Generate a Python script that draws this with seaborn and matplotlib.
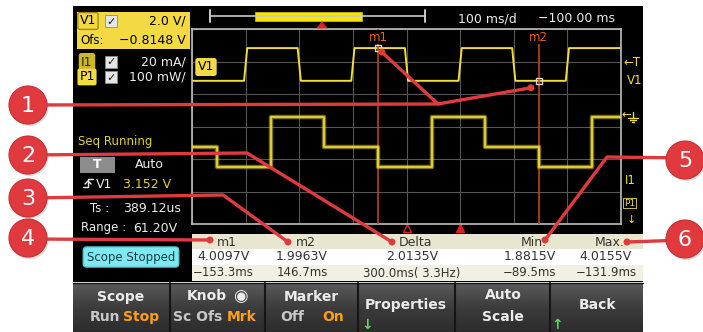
import numpy as np
import matplotlib.pyplot as plt
from matplotlib.patches import Rectangle, Circle, Polygon
from matplotlib.colors import LinearSegmentedColormap
import seaborn as sns

W, H = 703, 332

# scope settings
t_left, t_right = -500, 300          # ms, 100 ms/div, centre -100 ms
v1_offset = -0.8148                  # V, 2.0 V/div
v1_per_div = 2.0

# V1 voltage trace (ms, V)
v1_time = [-500, -403, -397, -303, -297, -203, -197, -103, -97, -3, 3, 97, 103, 197, 203, 300]
v1_volt = [1.9963, 1.9963, 4.0097, 4.0097, 1.9963, 1.9963, 4.0097, 4.0097,
           1.9963, 1.9963, 4.0097, 4.0097, 1.9963, 1.9963, 4.0097, 4.0097]

# I1 current trace (ms, mA), 20 mA/div
i1_time = [-500, -453.3, -353.3, -253.3, -153.3, -53.3, 46.7, 146.7, 246.7, 300]
i1_ma = [20, 8, 39, 20, 8, 39, 20, 8, 39, 39]
i1_lim = (-27.1, 92.9)

# markers
marker_names = ['m1', 'm2']
marker_time = [-153.3, 146.7]
marker_volt = [4.0097, 1.9963]

# measurement table
table_head = ['m1', 'm2', 'Delta', 'Min.', 'Max.']
table_volt = ['4.0097V', '1.9963V', '2.0135V', '1.8815V', '4.0155V']
table_time = ['−153.3ms', '146.7ms', '300.0ms( 3.3Hz)', '−89.5ms', '−131.9ms']
table_x = [223, 302, 412, 530, 606]

YEL = '#f0dc3c'
RED = '#e03a3e'
ORANGE = '#ff9f1a'
WHITE = '#ececec'

sns.set_theme(style='dark')
plt.rcParams['font.family'] = ['DejaVu Sans']

fig = plt.figure(figsize=(W / 100, H / 100), dpi=100)
fig.patch.set_facecolor('white')


def px_axes(z):
    a = fig.add_axes([0, 0, 1, 1], zorder=z)
    a.set_xlim(0, W)
    a.set_ylim(H, 0)
    a.axis('off')
    return a


bg = px_axes(0)
bg.add_patch(Rectangle((73, 6), 570, 276, fc='black', ec='none'))
keys_cmap = LinearSegmentedColormap.from_list('keys', ['#5a5a5a', '#3c3c3c', '#2c2c2c'])
bg.imshow(np.linspace(0, 1, 60).reshape(-1, 1), cmap=keys_cmap, aspect='auto',
          extent=(73, 643, 332, 283), origin='upper')
bg.set_xlim(0, W)
bg.set_ylim(H, 0)

# ---- scope grid ----
ax = fig.add_axes([192 / W, 1 - 224 / H, 429 / W, 195 / H], zorder=2)
ax.set_facecolor('black')
sns.lineplot(x=v1_time, y=v1_volt, ax=ax, color=YEL, lw=1.4,
             estimator=None, sort=False)
ax.set_xlim(t_left, t_right)
ax.set_ylim(v1_offset - 3 * v1_per_div, v1_offset + 3 * v1_per_div)
ax.set_xticks(range(t_left, t_right + 1, 100))
ax.set_yticks([v1_offset + k * v1_per_div for k in range(-3, 4)])
ax.tick_params(length=0, labelbottom=False, labelleft=False)
ax.grid(True, color='#555555', lw=0.8)
ax.set_xlabel('')
ax.set_ylabel('')
for s in ax.spines.values():
    s.set_visible(True)
    s.set_color('#bdbdbd')
    s.set_linewidth(1.2)

ax2 = ax.twinx()
sns.lineplot(x=i1_time, y=i1_ma, ax=ax2, color=YEL, lw=3.2, alpha=0.5,
             drawstyle='steps-post', estimator=None, sort=False)
sns.lineplot(x=i1_time, y=i1_ma, ax=ax2, color=YEL, lw=1.2,
             drawstyle='steps-post', estimator=None, sort=False)
ax2.set_ylim(*i1_lim)
ax2.axis('off')

xt = ax.get_xaxis_transform()
for name, t, v in zip(marker_names, marker_time, marker_volt):
    ax.axvline(t, color='#c9481c', lw=1.1, zorder=3)
    ax.text(t, 0.958, name, transform=xt, ha='center', va='center',
            color='#e8601e', fontsize=8.5, zorder=4,
            bbox=dict(fc='black', ec='none', pad=0.5))
    ax.plot([t], [v], marker='s', ms=5, mfc='none', mec='#d8d8d8', mew=1, zorder=5)
# time reference (hollow) and trigger (filled) triangles
ax.plot([-100], [-0.022], transform=xt, marker='^', ms=6, mfc='black',
        mec='#e02020', clip_on=False)
ax.plot([0], [-0.022], transform=xt, marker='^', ms=6, mfc='#e02020',
        mec='#e02020', clip_on=False)

lab = px_axes(3)

# overview bar
lab.plot([210, 425], [16, 16], color='#c8c8c8', lw=1.2)
lab.plot([210, 210], [10, 22], color='#c8c8c8', lw=1.4)
lab.plot([425, 425], [10, 22], color='#c8c8c8', lw=1.4)
lab.add_patch(Rectangle((255, 12), 107, 9, fc='#f5e600', ec='#c8b800', lw=0.6))
lab.add_patch(Polygon([[317, 28], [327, 28], [322, 22]], closed=True,
                      fc='#e82020', ec='#e82020', lw=0.5, zorder=4))
lab.text(458, 19, '100 ms/d', color=WHITE, fontsize=9, va='center')
lab.text(538, 19, '−100.00 ms', color=WHITE, fontsize=9, va='center')

# channel panel
lab.add_patch(Rectangle((77, 12), 113, 37, fc='#f3da45', ec='none'))


def checkbox(y):
    lab.add_patch(Rectangle((105, y - 6), 12, 12, fc='#e6e6e6', ec='#8c8c8c', lw=0.6))
    lab.text(111, y + 0.5, '✓', color='#202020', fontsize=8, ha='center', va='center')


lab.text(88, 21, 'V1', color='black', fontsize=9, ha='center', va='center',
         bbox=dict(boxstyle='round,pad=0.15', fc='#f3da45', ec='#a88a10', lw=1))
checkbox(21)
lab.text(186, 21, '2.0 V/', color='black', fontsize=9, ha='right', va='center')
lab.text(80, 40, 'Ofs:', color='black', fontsize=8.5, va='center')
lab.text(186, 40, '−0.8148 V', color='black', fontsize=9, ha='right', va='center')
lab.text(87, 62, 'I1', color='#2a2a00', fontsize=9, ha='center', va='center',
         bbox=dict(boxstyle='round,pad=0.2', fc='#cdb52c', ec='none'))
checkbox(62)
lab.text(186, 62, '20 mA/', color=WHITE, fontsize=9, ha='right', va='center')
lab.text(87, 77, 'P1', color='black', fontsize=9, ha='center', va='center',
         bbox=dict(boxstyle='round,pad=0.15', fc='#f3da45', ec='none'))
checkbox(77)
lab.text(186, 77, '100 mW/', color=WHITE, fontsize=9, ha='right', va='center')

lab.text(78, 141, 'Seq Running', color='#e2cf3a', fontsize=8.5, va='center')
lab.add_patch(Rectangle((80, 157), 35, 16, fc='#8c8c8c', ec='none'))
lab.text(97, 165, 'T', color='white', fontsize=9, fontweight='bold', ha='center', va='center')
lab.text(149, 165, 'Auto', color=WHITE, fontsize=9, ha='center', va='center')
lab.plot([83, 88, 88, 93], [187, 187, 179, 179], color=WHITE, lw=1)
lab.plot([85, 88, 91], [184, 181, 184], color=WHITE, lw=1)
lab.text(96, 184, 'V1', color=WHITE, fontsize=9, va='center')
lab.text(123, 184, '3.152 V', color='#e2cf3a', fontsize=9, va='center')
lab.text(90, 209, 'Ts :', color=WHITE, fontsize=8.5, va='center')
lab.text(123, 209, '389.12us', color=WHITE, fontsize=9, va='center')
lab.text(81, 228, 'Range :', color=WHITE, fontsize=8.5, va='center')
lab.text(133, 228, '61.20V', color=WHITE, fontsize=9, va='center')
lab.text(131, 257, 'Scope Stopped', color='#1c3c44', fontsize=8.5, ha='center', va='center',
         bbox=dict(boxstyle='round,pad=0.3', fc='#7fe9f2', ec='#5cc8d0'))

# labels on the grid
lab.text(206, 67, 'V1', color='black', fontsize=9, ha='center', va='center',
         bbox=dict(boxstyle='round,pad=0.2', fc='#f3da45', ec='none'))
lab.text(623, 63, '←T', color=YEL, fontsize=8.5, va='center')
lab.text(627, 80, 'V1', color=YEL, fontsize=8.5, va='center')
lab.text(621, 114, '←', color=YEL, fontsize=8.5, va='center')
lab.plot([633, 633], [112, 118], color=YEL, lw=1)
lab.plot([628, 638], [118, 118], color=YEL, lw=1)
lab.plot([630, 636], [120, 120], color=YEL, lw=1)
lab.plot([632, 634], [122, 122], color=YEL, lw=1)
lab.text(625, 180, 'I1', color=YEL, fontsize=8.5, va='center')
lab.text(624, 203, 'P1', color=YEL, fontsize=6.5, va='center',
         bbox=dict(boxstyle='square,pad=0.1', fc='none', ec=YEL, lw=0.6))
lab.text(627, 220, '↓', color=YEL, fontsize=8, va='center')

# measurement table
lab.add_patch(Rectangle((192, 234), 451, 15, fc='#e9e6cf', ec='none'))
lab.add_patch(Rectangle((192, 249), 451, 16, fc='white', ec='none'))
lab.add_patch(Rectangle((192, 265), 451, 16, fc='#f2f0e2', ec='none'))
for x, hd, vv, tt in zip(table_x, table_head, table_volt, table_time):
    lab.text(x + 4, 242, hd, color='#333333', fontsize=9, ha='center', va='center')
    lab.text(x, 257, vv, color='#333333', fontsize=9, ha='center', va='center')
    lab.text(x, 273, tt, color='#333333', fontsize=8.5, ha='center', va='center')

# softkeys
for x in [170, 265, 358, 455, 550]:
    lab.plot([x, x], [283, 332], color='#151515', lw=1.5)
lab.plot([73, 643], [283, 283], color='#151515', lw=1)
lab.text(121, 297, 'Scope', color=WHITE, fontsize=10, fontweight='bold', ha='center', va='center')
lab.text(90, 317, 'Run', color='#c8c8c8', fontsize=10, fontweight='bold', va='center')
lab.text(123, 317, 'Stop', color=ORANGE, fontsize=10, fontweight='bold', va='center')
lab.text(207, 296, 'Knob', color=WHITE, fontsize=10, fontweight='bold', ha='center', va='center')
lab.text(240, 296, '◉', color=WHITE, fontsize=12, ha='center', va='center')
lab.text(173, 317, 'Sc Ofs', color='#c8c8c8', fontsize=10, fontweight='bold', va='center')
lab.text(227, 317, 'Mrk', color=ORANGE, fontsize=10, fontweight='bold', va='center')
lab.text(311, 297, 'Marker', color=WHITE, fontsize=10, fontweight='bold', ha='center', va='center')
lab.text(280, 317, 'Off', color='#c8c8c8', fontsize=10, fontweight='bold', va='center')
lab.text(322, 317, 'On', color=ORANGE, fontsize=10, fontweight='bold', va='center')
lab.text(406, 305, 'Properties', color=WHITE, fontsize=10, fontweight='bold', ha='center', va='center')
lab.text(367, 325, '↓', color='#50e050', fontsize=10, fontweight='bold', ha='center', va='center')
lab.text(503, 295, 'Auto', color=WHITE, fontsize=10, fontweight='bold', ha='center', va='center')
lab.text(503, 317, 'Scale', color=WHITE, fontsize=10, fontweight='bold', ha='center', va='center')
lab.text(597, 305, 'Back', color=WHITE, fontsize=10, fontweight='bold', ha='center', va='center')
lab.text(557, 325, '↑', color='#50e050', fontsize=10, fontweight='bold', ha='center', va='center')

# ---- numbered callouts ----
ov = px_axes(5)


def data_px(a, x, y):
    return ov.transData.inverted().transform(a.transData.transform((x, y)))


m1x, m1y = data_px(ax, marker_time[0], marker_volt[0])
m2x, m2y = data_px(ax, marker_time[1], marker_volt[1])
callouts = [
    ('1', (28, 105), [[(28, 105), (438, 104), (m1x + 4, m1y + 4)], [(438, 104), (m2x - 8, m2y + 7)]]),
    ('2', (28, 155), [[(28, 155), (247, 153), (392, 242)]]),
    ('3', (28, 198), [[(28, 198), (223, 195), (288, 242)]]),
    ('4', (28, 238), [[(28, 239), (210, 240)]]),
    ('5', (685, 160), [[(685, 158), (607, 157), (545, 240)]]),
    ('6', (685, 239), [[(685, 240), (627, 242)]]),
]
for num, (cx, cy), paths in callouts:
    for p in paths:
        xs = [q[0] for q in p]
        ys = [q[1] for q in p]
        ov.plot(xs, ys, color=RED, lw=2.4, solid_capstyle='round', zorder=1)
        ov.add_patch(Circle(p[-1], 3.5, fc=RED, ec='none', zorder=1))
    ov.add_patch(Circle((cx + 1.5, cy + 2), 19, fc='#999999', ec='none', alpha=0.35, zorder=2))
    ov.add_patch(Circle((cx, cy), 19, fc=RED, ec='#c53035', lw=0.8, zorder=3))
    ov.text(cx, cy + 1, num, color='white', fontsize=16, ha='center', va='center', zorder=4)

fig.savefig('out.png', dpi=100, facecolor='white')
